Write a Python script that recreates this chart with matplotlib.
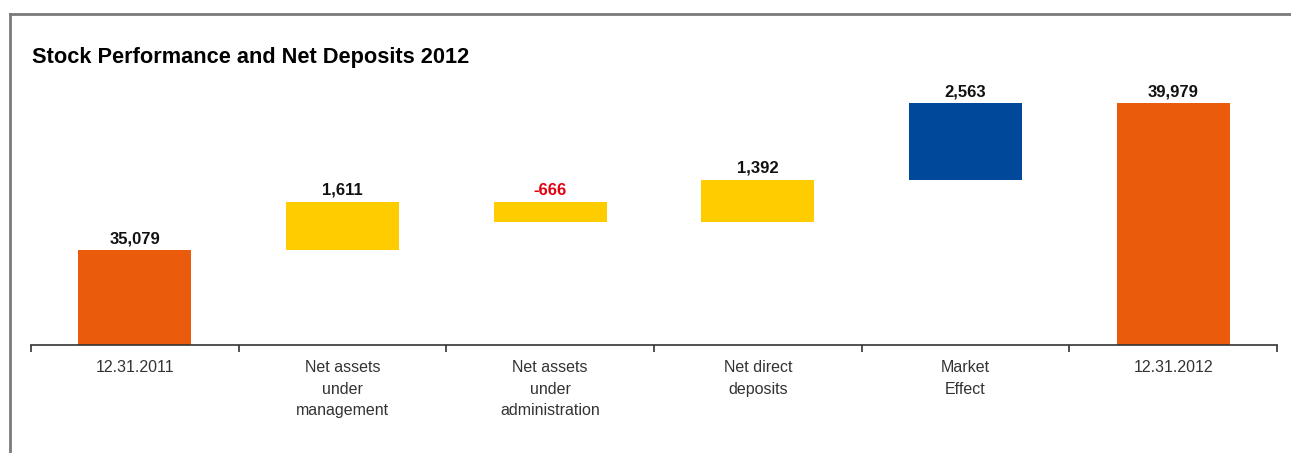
import numpy as np
import matplotlib.pyplot as plt
from matplotlib.lines import Line2D

categories = ["12.31.2011", "Net assets\nunder\nmanagement", "Net assets\nunder\nadministration",
              "Net direct\ndeposits", "Market\nEffect", "12.31.2012"]
changes = [35079, 1611, -666, 1392, 2563, 39979]
kinds = ["total", "delta", "delta", "delta", "delta", "total"]
labels = ["35,079", "1,611", "-666", "1,392", "2,563", "39,979"]

colors = ["#EA5B0C", "#FFCC00", "#FFCC00", "#FFCC00", "#00489A", "#EA5B0C"]
label_colors = ["#111111", "#111111", "#E3000F", "#111111", "#111111", "#111111"]

plt.rcParams['font.family'] = ['Liberation Sans', 'DejaVu Sans']

fig = plt.figure(figsize=(12.91, 4.53), dpi=100)
W, H = 1291, 453
ax = fig.add_axes([31 / W, (H - 345) / H, (1277 - 31) / W, (345 - 80) / H])

ymin = 31912
x = np.arange(len(categories))
running = 0
tops = []
for i, (v, k) in enumerate(zip(changes, kinds)):
    if k == "total":
        bottom, height = ymin, v - ymin
        running = v
    else:
        bottom = running if v > 0 else running + v
        height = abs(v)
        running += v
    ax.bar(x[i], height, bottom=bottom, width=0.545, color=colors[i], zorder=2)
    tops.append(bottom + height)

for i, t in enumerate(tops):
    ax.text(x[i], t + 130, labels[i], ha="center", va="bottom", fontsize=12,
            fontweight="bold", color=label_colors[i])

ax.set_xlim(-0.5, len(categories) - 0.5)
ax.set_ylim(ymin, ymin + 265 / 0.03)
for s in ["top", "left", "right"]:
    ax.spines[s].set_visible(False)
ax.spines["bottom"].set_color("#333333")
ax.spines["bottom"].set_linewidth(1.2)
ax.set_yticks([])
ax.set_xticks(x)
ax.set_xticklabels(categories, fontsize=11.5, color="#333333", linespacing=1.55)
ax.tick_params(axis="x", which="major", length=0, pad=11)
ax.set_xticks(np.arange(-0.5, len(categories)), minor=True)
ax.tick_params(axis="x", which="minor", length=5, width=1.2, color="#333333")

fig.text(32 / W, 1 - 57 / H, "Stock Performance and Net Deposits 2012", fontsize=15.7,
         fontweight="bold", color="#000000", va="center", ha="left")

# outer frame (left and top edges)
fig.add_artist(Line2D([10 / W, 10 / W], [0, 1 - 14 / H], color="#7a7a7a", lw=2))
fig.add_artist(Line2D([10 / W, 1], [1 - 14 / H, 1 - 14 / H], color="#7a7a7a", lw=2))

fig.savefig("out.png", dpi=100)
